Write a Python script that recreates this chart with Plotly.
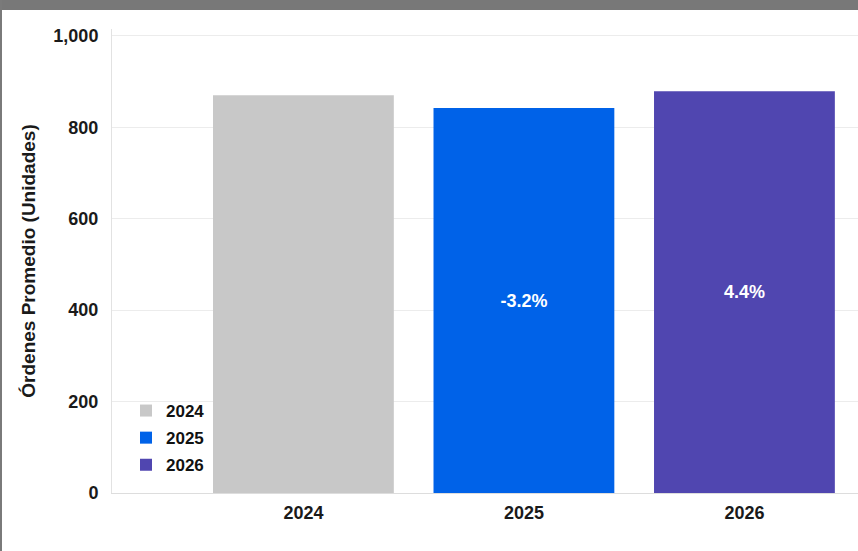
import plotly.graph_objects as go

years = ["2024", "2025", "2026"]
values = [870, 842, 879]
labels = ["", "-3.2%", "4.4%"]
colors = ["#c8c8c8", "#0062e8", "#5046b0"]

y_ticks = [0, 200, 400, 600, 800, 1000]

FONT = "Liberation Sans, Arial"

fig = go.Figure()
for yr, v, lab, c in zip(years, values, labels, colors):
    fig.add_trace(go.Bar(
        x=[yr], y=[v], name=yr, marker=dict(color=c, line=dict(width=0)),
        text=[lab], textposition="inside", insidetextanchor="middle",
        textfont=dict(family=FONT, size=18, color="white", weight="bold"),
        width=0.82, legendgroup=yr, hoverinfo="x+y",
    ))

W, H = 858, 551
ml, mr, mt, mb = 112, 0, 29, 58
pw, ph = W - ml - mr, H - mt - mb

fig.update_layout(
    width=W, height=H,
    margin=dict(l=ml, r=mr, t=mt, b=mb, autoexpand=False),
    paper_bgcolor="white", plot_bgcolor="white",
    barmode="overlay",
    font=dict(family=FONT, size=18, color="#1a1a1a"),
    showlegend=True,
    legend=dict(
        x=(126 - ml) / pw, y=(H - mb - 483) / ph, xanchor="left", yanchor="bottom",
        bgcolor="rgba(255,255,255,0)", tracegroupgap=2,
        font=dict(family=FONT, size=17, color="#111", weight="bold"),
        itemwidth=30,
    ),
    xaxis=dict(
        type="category", range=[-0.868, 2.515],
        showgrid=False, showline=True, linecolor="#dddddd", linewidth=1,
        ticks="", ticklabelstandoff=3,
        tickfont=dict(family=FONT, size=18, color="#1a1a1a", weight="bold"),
    ),
    yaxis=dict(
        range=[0, 1015], tickvals=y_ticks, tickformat=",",
        showgrid=True, gridcolor="#ececec", gridwidth=1,
        showline=True, linecolor="#e2e2e2", linewidth=1,
        zeroline=False, ticks="", ticklabelstandoff=9,
        tickfont=dict(family=FONT, size=18, color="#1a1a1a", weight="bold"),
        title=dict(text="Órdenes Promedio (Unidades)", standoff=12,
                   font=dict(family=FONT, size=19, color="#1a1a1a", weight="bold")),
    ),
    shapes=[
        dict(type="rect", xref="paper", yref="paper",
             x0=-ml / pw - 0.01, x1=1 + 5 / pw, y0=1 + (mt - 10) / ph, y1=1 + mt / ph + 0.01,
             fillcolor="#787878", line=dict(width=0), layer="above"),
        dict(type="rect", xref="paper", yref="paper",
             x0=-ml / pw - 0.01, x1=-(ml - 2) / pw, y0=-mb / ph - 0.01, y1=1 + mt / ph,
             fillcolor="#7a7a7a", line=dict(width=0), layer="above"),
    ],
)

fig.write_html(
    "out.html",
    config={"displayModeBar": False},
    post_script="document.body.style.margin='0';document.body.style.overflow='hidden';",
)
